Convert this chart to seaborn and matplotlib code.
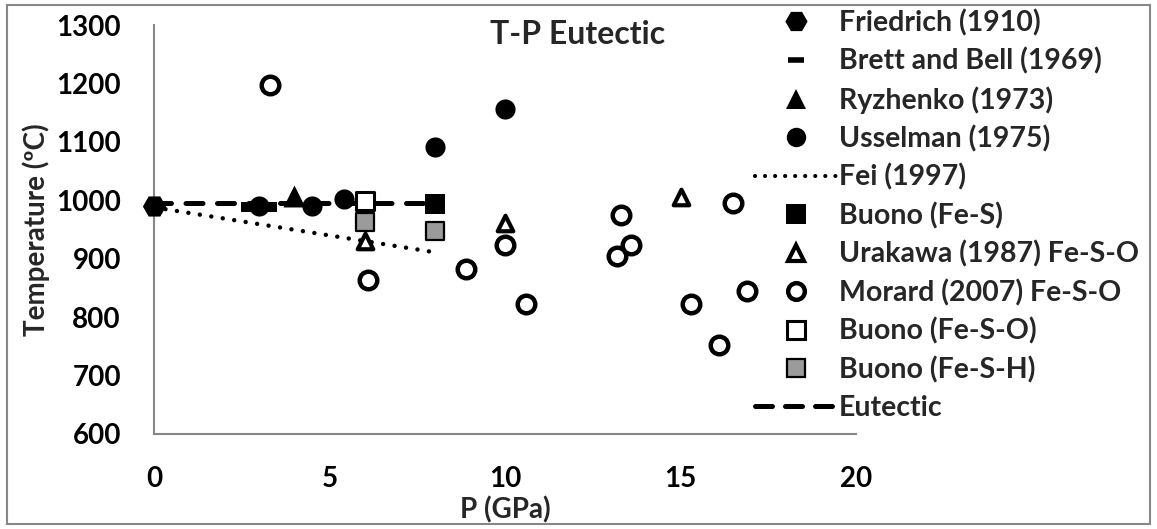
import pandas as pd
import seaborn as sns
import matplotlib.pyplot as plt
from matplotlib.lines import Line2D
from matplotlib.patches import Rectangle

# Values: pressure (GPa) and temperature (C)
friedrich_p = [0]
friedrich_t = [990]
brett_p = [3]
brett_t = [988]
ryzhenko_p = [4]
ryzhenko_t = [1008]
usselman_p = [3, 4.5, 5.4, 8, 10]
usselman_t = [990, 990, 1003, 1092, 1157]
fei_p = [0, 8]
fei_t = [988, 911]
buono_fes_p = [8]
buono_fes_t = [994]
urakawa_p = [6, 10, 15]
urakawa_t = [931, 961, 1006]
morard_p = [3.3, 6.1, 8.9, 10, 10.6, 13.2, 13.3, 13.6, 15.3, 16.1, 16.5, 16.9]
morard_t = [1197, 864, 883, 924, 823, 904, 975, 924, 823, 752, 995, 845]
buono_feso_p = [6]
buono_feso_t = [998]
buono_fesh_p = [6, 8]
buono_fesh_t = [963, 947]
eutectic_p = [0, 8]
eutectic_t = [995, 995]

x_ticks = [0, 5, 10, 15, 20]
y_ticks = [600, 700, 800, 900, 1000, 1100, 1200, 1300]

sns.set_style("white")
plt.rcParams['font.family'] = ['Lato', 'DejaVu Sans']
plt.rcParams['font.weight'] = 'bold'

W, H = 1157, 529
fig = plt.figure(figsize=(W / 100, H / 100), dpi=100)
ax = fig.add_axes([154 / W, 1 - 434 / H, (856 - 154) / W, (434 - 25) / H])

grey = '#878787'
fesh_grey = '#9b9b9b'

# lines first, markers on top
sns.lineplot(x=eutectic_p, y=eutectic_t, ax=ax, color='black', lw=3.6,
             dashes=False, zorder=2, solid_capstyle='round')
ax.lines[-1].set_dashes((3.4, 2.9))
ax.lines[-1].set_dash_capstyle('round')
sns.lineplot(x=fei_p, y=fei_t, ax=ax, color='black', lw=3.2, zorder=2)
ax.lines[-1].set_dashes((0.01, 2.6))
ax.lines[-1].set_dash_capstyle('round')

bar = [(-1.85, -0.5), (1.85, -0.5), (1.85, 0.5), (-1.85, 0.5)]

def dots(px, py, **kw):
    sns.scatterplot(x=px, y=py, ax=ax, clip_on=False, zorder=5, legend=False, **kw)

dots(friedrich_p, friedrich_t, marker='H', s=280, color='black', linewidth=0)
dots(brett_p, brett_t, marker=bar, s=700, color='black', linewidth=0)
dots(ryzhenko_p, ryzhenko_t, marker='^', s=250, color='black', linewidth=0)
dots(usselman_p, usselman_t, marker='o', s=210, color='black', linewidth=0)
dots(buono_fes_p, buono_fes_t, marker='s', s=200, color='black', linewidth=0)
dots(urakawa_p, urakawa_t, marker='^', s=125, facecolor='white', edgecolor='black', linewidth=3)
dots(morard_p, morard_t, marker='o', s=160, facecolor='white', edgecolor='black', linewidth=3.2)
dots(buono_feso_p, buono_feso_t, marker='s', s=170, facecolor='white', edgecolor='black', linewidth=2.2)
dots(buono_fesh_p, buono_fesh_t, marker='s', s=170, facecolor=fesh_grey, edgecolor='black', linewidth=1.6)

ax.set_xlim(0, 20)
ax.set_ylim(600, 1300)
ax.set_xticks(x_ticks)
ax.set_yticks(y_ticks)
for side in ['top', 'right']:
    ax.spines[side].set_visible(False)
for side in ['left', 'bottom']:
    ax.spines[side].set_color(grey)
    ax.spines[side].set_linewidth(1.5)
    ax.spines[side].set_zorder(1)
ax.tick_params(direction='inout', length=13.7, width=1.5, color=grey,
               labelsize=20, labelcolor='black')
ax.tick_params(axis='y', pad=17)
ax.tick_params(axis='x', pad=16)

ax.set_xlabel('P (GPa)', fontsize=20, fontweight='bold', labelpad=3)
ax.set_ylabel('Temperature (ºC)', fontsize=20, fontweight='bold', labelpad=4)

fig.text(578 / W, 1 - 35 / H, 'T-P Eutectic', fontsize=23, fontweight='bold',
         ha='center', va='center')

handles = [
    Line2D([], [], ls='none', marker='H', ms=16, color='black', mew=0),
    Line2D([], [], ls='none', marker='_', ms=12, color='black', mew=4),
    Line2D([], [], ls='none', marker='^', ms=14, color='black', mew=0),
    Line2D([], [], ls='none', marker='o', ms=14, color='black', mew=0),
    Line2D([], [], color='black', lw=3, dashes=(0.01, 2.4), dash_capstyle='round'),
    Line2D([], [], ls='none', marker='s', ms=14, color='black', mew=0),
    Line2D([], [], ls='none', marker='^', ms=11, mfc='white', mec='black', mew=3),
    Line2D([], [], ls='none', marker='o', ms=12, mfc='white', mec='black', mew=3.2),
    Line2D([], [], ls='none', marker='s', ms=13, mfc='white', mec='black', mew=2.2),
    Line2D([], [], ls='none', marker='s', ms=13, mfc=fesh_grey, mec='black', mew=1.6),
    Line2D([], [], color='black', lw=3.6, dashes=(3.4, 2.6), dash_capstyle='round'),
]
labels = ['Friedrich (1910)', 'Brett and Bell (1969)', 'Ryzhenko (1973)',
          'Usselman (1975)', 'Fei (1997)', 'Buono (Fe-S)',
          'Urakawa (1987) Fe-S-O', 'Morard (2007) Fe-S-O', 'Buono (Fe-S-O)',
          'Buono (Fe-S-H)', 'Eutectic']
fig.legend(handles, labels, loc='upper left', bbox_to_anchor=(755 / W, 1 - 9 / H),
           frameon=False, fontsize=20.5, handlelength=2.85, handletextpad=0.1,
           labelspacing=0.4, borderpad=0, borderaxespad=0)

# chart border
fig.patches.append(Rectangle((7 / W, 5 / H), (1150 - 7) / W, (524 - 5) / H,
                             transform=fig.transFigure, fill=False,
                             edgecolor=grey, lw=1.5))

fig.savefig('out.png', dpi=100)
